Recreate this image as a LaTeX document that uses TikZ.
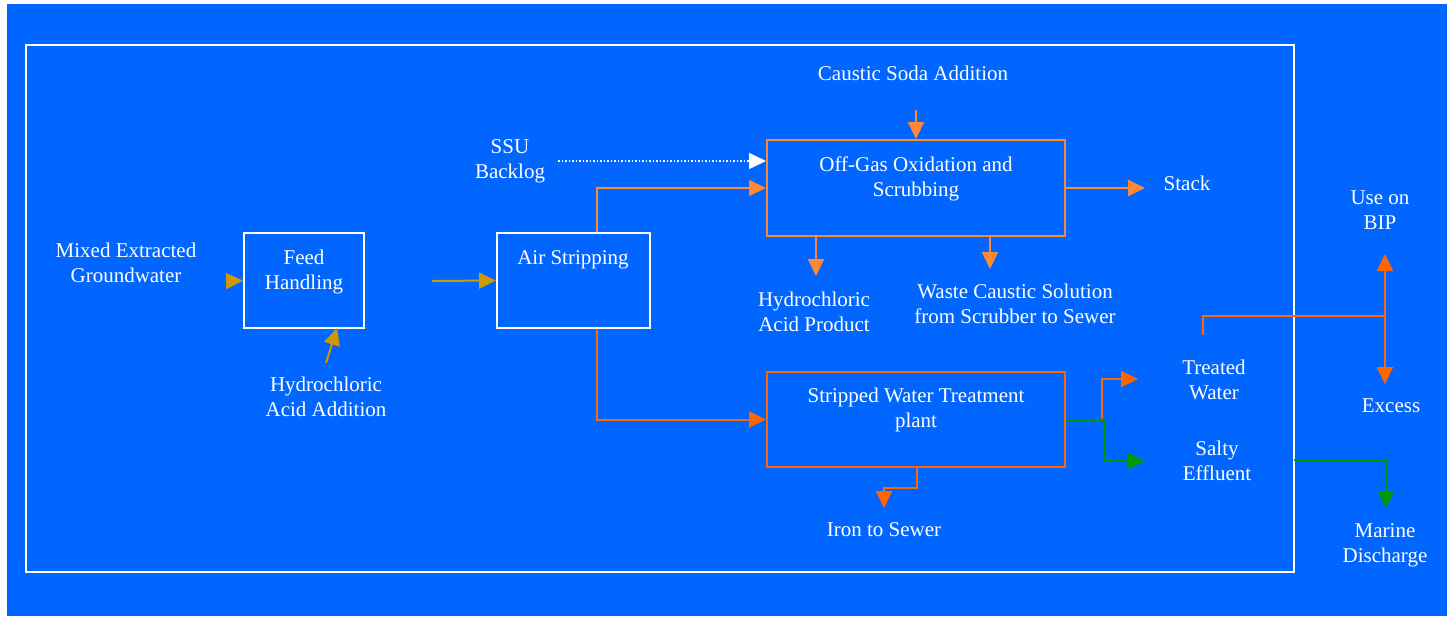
\documentclass[tikz,border=0pt]{standalone}
\usepackage{fontspec}
\setmainfont{Liberation Serif}
\usetikzlibrary{arrows.meta,calc}
\definecolor{bgblue}{RGB}{0,102,255}
\definecolor{orA}{RGB}{255,136,51}
\definecolor{orB}{RGB}{255,102,0}
\definecolor{goldc}{RGB}{204,153,0}
\definecolor{greenc}{RGB}{0,153,0}
\tikzset{
  lbl/.style={text=white,align=center,inner sep=0pt,font=\fontsize{21}{25}\selectfont},
  boxw/.style={draw=white,line width=2pt,inner sep=0pt},
  boxo/.style={draw=orA,line width=2pt,inner sep=0pt},
  boxr/.style={draw=orB,line width=2pt,inner sep=0pt},
  tip/.style={-{Triangle[length=17pt,width=16pt]}},
  ga/.style={tip,draw=goldc,fill=goldc,line width=2pt},
  oa/.style={tip,draw=orA,line width=2pt},
  ra/.style={tip,draw=orB,line width=2pt},
  gr/.style={tip,draw=greenc,line width=2pt},
}
\begin{document}
\begin{tikzpicture}[x=1pt,y=-1pt]
\useasboundingbox (0,0) rectangle (1453,618);
\fill[bgblue] (7,4) rectangle (1447,616);
\draw[white,line width=2.5pt] (26,45) rectangle (1294,572);

% boxes
\node[boxw,minimum width=120pt,minimum height=95pt] (feed) at (304,280.5) {};
\node[boxw,minimum width=153pt,minimum height=95pt] (air) at (573.5,280.5) {};
\node[boxo,minimum width=298pt,minimum height=96pt] (offgas) at (916,188) {};
\node[boxr,minimum width=298pt,minimum height=95pt] (swt) at (916,419.5) {};

% box texts
\node[lbl] (feedt) at (304,272) {Feed\\Handling};
\node[lbl] (airt) at (573,260) {Air Stripping};
\node[lbl] (offt) at (916,178.5) {Off-Gas Oxidation and\\Scrubbing};
\node[lbl] (swtt) at (916,409.5) {Stripped Water Treatment\\plant};

% free labels
\node[lbl] (mixed) at (126,262.5) {Mixed Extracted\\Groundwater};
\node[lbl] (hcla) at (326,396.5) {Hydrochloric\\Acid Addition};
\node[lbl] (ssu) at (510,161.5) {SSU\\Backlog};
\node[lbl] (caustic) at (913,73) {Caustic Soda Addition};
\node[lbl] (stack) at (1187,183) {Stack};
\node[lbl] (hclp) at (814,311.5) {Hydrochloric\\Acid Product};
\node[lbl] (waste) at (1015,303.5) {Waste Caustic Solution\\from Scrubber to Sewer};
\node[lbl] (iron) at (884,530) {Iron to Sewer};
\node[lbl] (tw) at (1214,379.5) {Treated\\Water};
\node[lbl] (se) at (1217,461) {Salty\\Effluent};
\node[lbl] (bip) at (1380,210.5) {Use on\\BIP};
\node[lbl] (excess) at (1391,406) {Excess};
\node[lbl] (marine) at (1385,545) {Marine\\Discharge};

% free ends
\coordinate (mixedout) at (228,281);
\coordinate (hclin) at (326,363);
\coordinate (hcltip) at (337,328);
\coordinate (feedout) at (432,281);
\coordinate (ssuout) at (558,161);
\coordinate (causticin) at (916,110);
\coordinate (stackend) at (1145,188);
\coordinate (hclpend) at (816,276);
\coordinate (wasteend) at (990,269);
\coordinate (ironend) at (884,508);
\coordinate (twend) at (1138,379);
\coordinate (seend) at (1145,461);
\coordinate (twout) at (1203,335);
\coordinate (split) at (1385,316);
\coordinate (bipend) at (1385,254);
\coordinate (excessend) at (1385,384);
\coordinate (seout) at (1294,460);
\coordinate (marineend) at (1386,508);

% connectors
\draw[ga] (mixedout) -- (feed.west);
\draw[ga] (hclin) -- (hcltip);
\draw[ga] (feedout) -- (air.west);
\draw[tip,white,line width=1.5pt,dotted] (ssuout) -- ([yshift=27pt]offgas.west);
\draw[oa] ([xshift=23.5pt]air.north) |- (offgas.west);
\draw[oa] (causticin) -- (offgas.north);
\draw[oa] (offgas.east) -- (stackend);
\draw[oa] (offgas.south -| hclpend) -- (hclpend);
\draw[oa] (offgas.south -| wasteend) -- (wasteend);
\draw[ra] ([xshift=23.5pt]air.south) |- (swt.west);
\draw[ra] ([xshift=1pt]swt.south) -- ++(0,20) -| (ironend);
\draw[ra] (swt.east) -- ++(36,0) |- (twend);
\draw[gr] (swt.east) -- ++(39,0) |- (seend);
\draw[ra] (twout) |- (split) -- (bipend);
\draw[ra] (split) -- (excessend);
\draw[gr] (seout) -| (marineend);
\end{tikzpicture}
\end{document}
